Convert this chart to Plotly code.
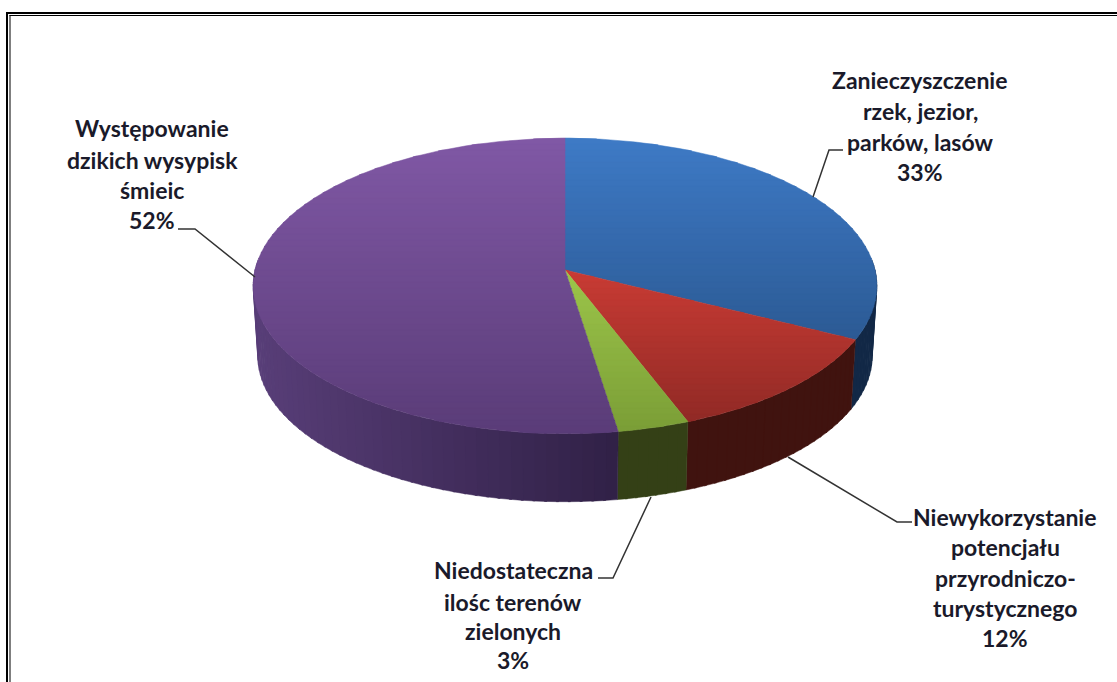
import numpy as np
import plotly.graph_objects as go

# ---- data ----
categories = [
    "Zanieczyszczenie\nrzek, jezior,\nparków, lasów",
    "Niewykorzystanie\npotencjału\nprzyrodniczo-\nturystycznego",
    "Niedostateczna\nilośc terenów\nzielonych",
    "Występowanie\ndzikich wysypisk\nśmieic",
]
values = [32.5, 11.7, 3.35, 52.45]
percent_labels = ["33%", "12%", "3%", "52%"]

# ---- styles ----
top_light = [(62, 122, 198), (250, 75, 65), (184, 230, 90), (128, 88, 165)]
top_dark = [(35, 75, 125), (140, 40, 36), (122, 157, 54), (90, 60, 120)]
wall_left = [(18, 40, 70), (64, 19, 15), (52, 64, 22), (88, 62, 120)]
wall_right = [(18, 40, 70), (64, 19, 15), (52, 64, 22), (48, 32, 70)]
FONT = "Lato"
TEXT = "#1a1a2a"

# projection of the disc seen in perspective
CX, CY = 565.0, 270.0
AX, BY, K = 310.0, 146.0, 0.108
DEPTH, SHRINK = 70.5, 0.985
Y_TOP, Y_BOT = 138.0, 434.0


def project(theta_deg, scale=1.0, dz=0.0):
    t = np.radians(theta_deg)
    u, v = np.sin(t), np.cos(t)
    w = 1 + K * v
    return CX + scale * AX * u / w, CY - scale * BY * v / w + dz


def clip(pts, y0, y1):
    def half(poly, inside, isect):
        out = []
        for i in range(len(poly)):
            a, b = poly[i], poly[(i + 1) % len(poly)]
            ia, ib = inside(a), inside(b)
            if ia:
                out.append(a)
            if ia != ib:
                out.append(isect(a, b))
        return out

    def at(y):
        def f(a, b):
            s = (y - a[1]) / (b[1] - a[1])
            return (a[0] + s * (b[0] - a[0]), y)
        return f

    r = half(pts, lambda p: p[1] >= y0, at(y0))
    if r:
        r = half(r, lambda p: p[1] <= y1, at(y1))
    return r


def rgb(a, b, s):
    s = min(max(s, 0.0), 1.0)
    c = [round(a[i] + (b[i] - a[i]) * s) for i in range(3)]
    return f"rgb({c[0]},{c[1]},{c[2]})"


def poly_trace(xs, ys, color, lw=0.0):
    return go.Scatter(
        x=list(xs) + [xs[0]], y=list(ys) + [ys[0]], mode="lines", fill="toself",
        fillcolor=color, line=dict(width=lw, color=color), hoverinfo="skip",
        showlegend=False,
    )


fig = go.Figure()
edges = np.concatenate([[0.0], np.cumsum(values)]) / sum(values) * 360.0

# walls
step = 2.0
for i in range(len(values)):
    a0, a1 = max(edges[i], 86.0), min(edges[i + 1], 274.0)
    if a1 <= a0:
        continue
    n = max(1, int(np.ceil((a1 - a0) / step)))
    bounds = np.linspace(a0, a1, n + 1)
    for j in range(n):
        th = np.linspace(bounds[j], min(bounds[j + 1] + 0.4, a1), 4)
        xt, yt = project(th)
        xb, yb = project(th[::-1], SHRINK, DEPTH)
        s = (xt.mean() - 255.0) / (620.0 - 255.0)
        fig.add_trace(poly_trace(np.r_[xt, xb], np.r_[yt, yb], rgb(wall_left[i], wall_right[i], s), 0.5))

# top face, painted in horizontal bands for the vertical shading
band = 6.0
for i in range(len(values)):
    th = np.arange(edges[i], edges[i + 1], 1.0)
    th = np.r_[th, edges[i + 1]]
    ax, ay = project(th)
    pts = [(CX, CY)] + list(zip(ax, ay))
    y = Y_TOP - band
    while y < Y_BOT + band:
        piece = clip(pts, y, y + band + 1.0)
        if len(piece) >= 3:
            s = (y + band / 2 - Y_TOP) / (Y_BOT - Y_TOP)
            fig.add_trace(poly_trace([p[0] for p in piece], [p[1] for p in piece],
                                     rgb(top_light[i], top_dark[i], s), 0.5))
        y += band

# leader lines
leaders = [
    ([813, 829, 843], [197, 150, 150]),
    ([788, 897, 912], [457, 522, 522]),
    ([651, 613, 598], [497, 578, 578]),
    ([255, 195, 178], [277, 229, 229]),
]
for lx, ly in leaders:
    fig.add_trace(go.Scatter(x=lx, y=ly, mode="lines", hoverinfo="skip", showlegend=False,
                             line=dict(color="#333333", width=1.5)))

# labels: one text per row
label_x = [920, 1005, 513, 152]
label_y = [
    [80, 111, 142, 172],
    [517, 547, 578, 608, 638],
    [570, 602, 631, 660],
    [128, 160, 190, 220],
]
annotations = []
for i, cat in enumerate(categories):
    rows = cat.split("\n") + [percent_labels[i]]
    for row, yy in zip(rows, label_y[i]):
        annotations.append(dict(x=label_x[i], y=yy, text=f"<b>{row}</b>", showarrow=False,
                                xanchor="center", yanchor="middle",
                                font=dict(family=FONT, size=23, color=TEXT)))

# frame on the left and top edges
frame = []
for x0, x1, y0, y1 in [(6, 8, 12, 682), (9.5, 10.5, 15, 682), (6, 1117, 12, 14), (9.5, 1117, 15, 16)]:
    frame.append(dict(type="rect", x0=x0, x1=x1, y0=y0, y1=y1, fillcolor="black", line_width=0, layer="above"))

fig.update_layout(
    width=1117, height=682, margin=dict(l=0, r=0, t=0, b=0),
    paper_bgcolor="white", plot_bgcolor="white", showlegend=False,
    xaxis=dict(range=[0, 1117], visible=False, fixedrange=True),
    yaxis=dict(range=[682, 0], visible=False, fixedrange=True),
    annotations=annotations, shapes=frame,
)

fig.write_html("out.html", config={"displayModeBar": False},
               post_script="document.body.style.margin='0';document.body.style.overflow='hidden';")
